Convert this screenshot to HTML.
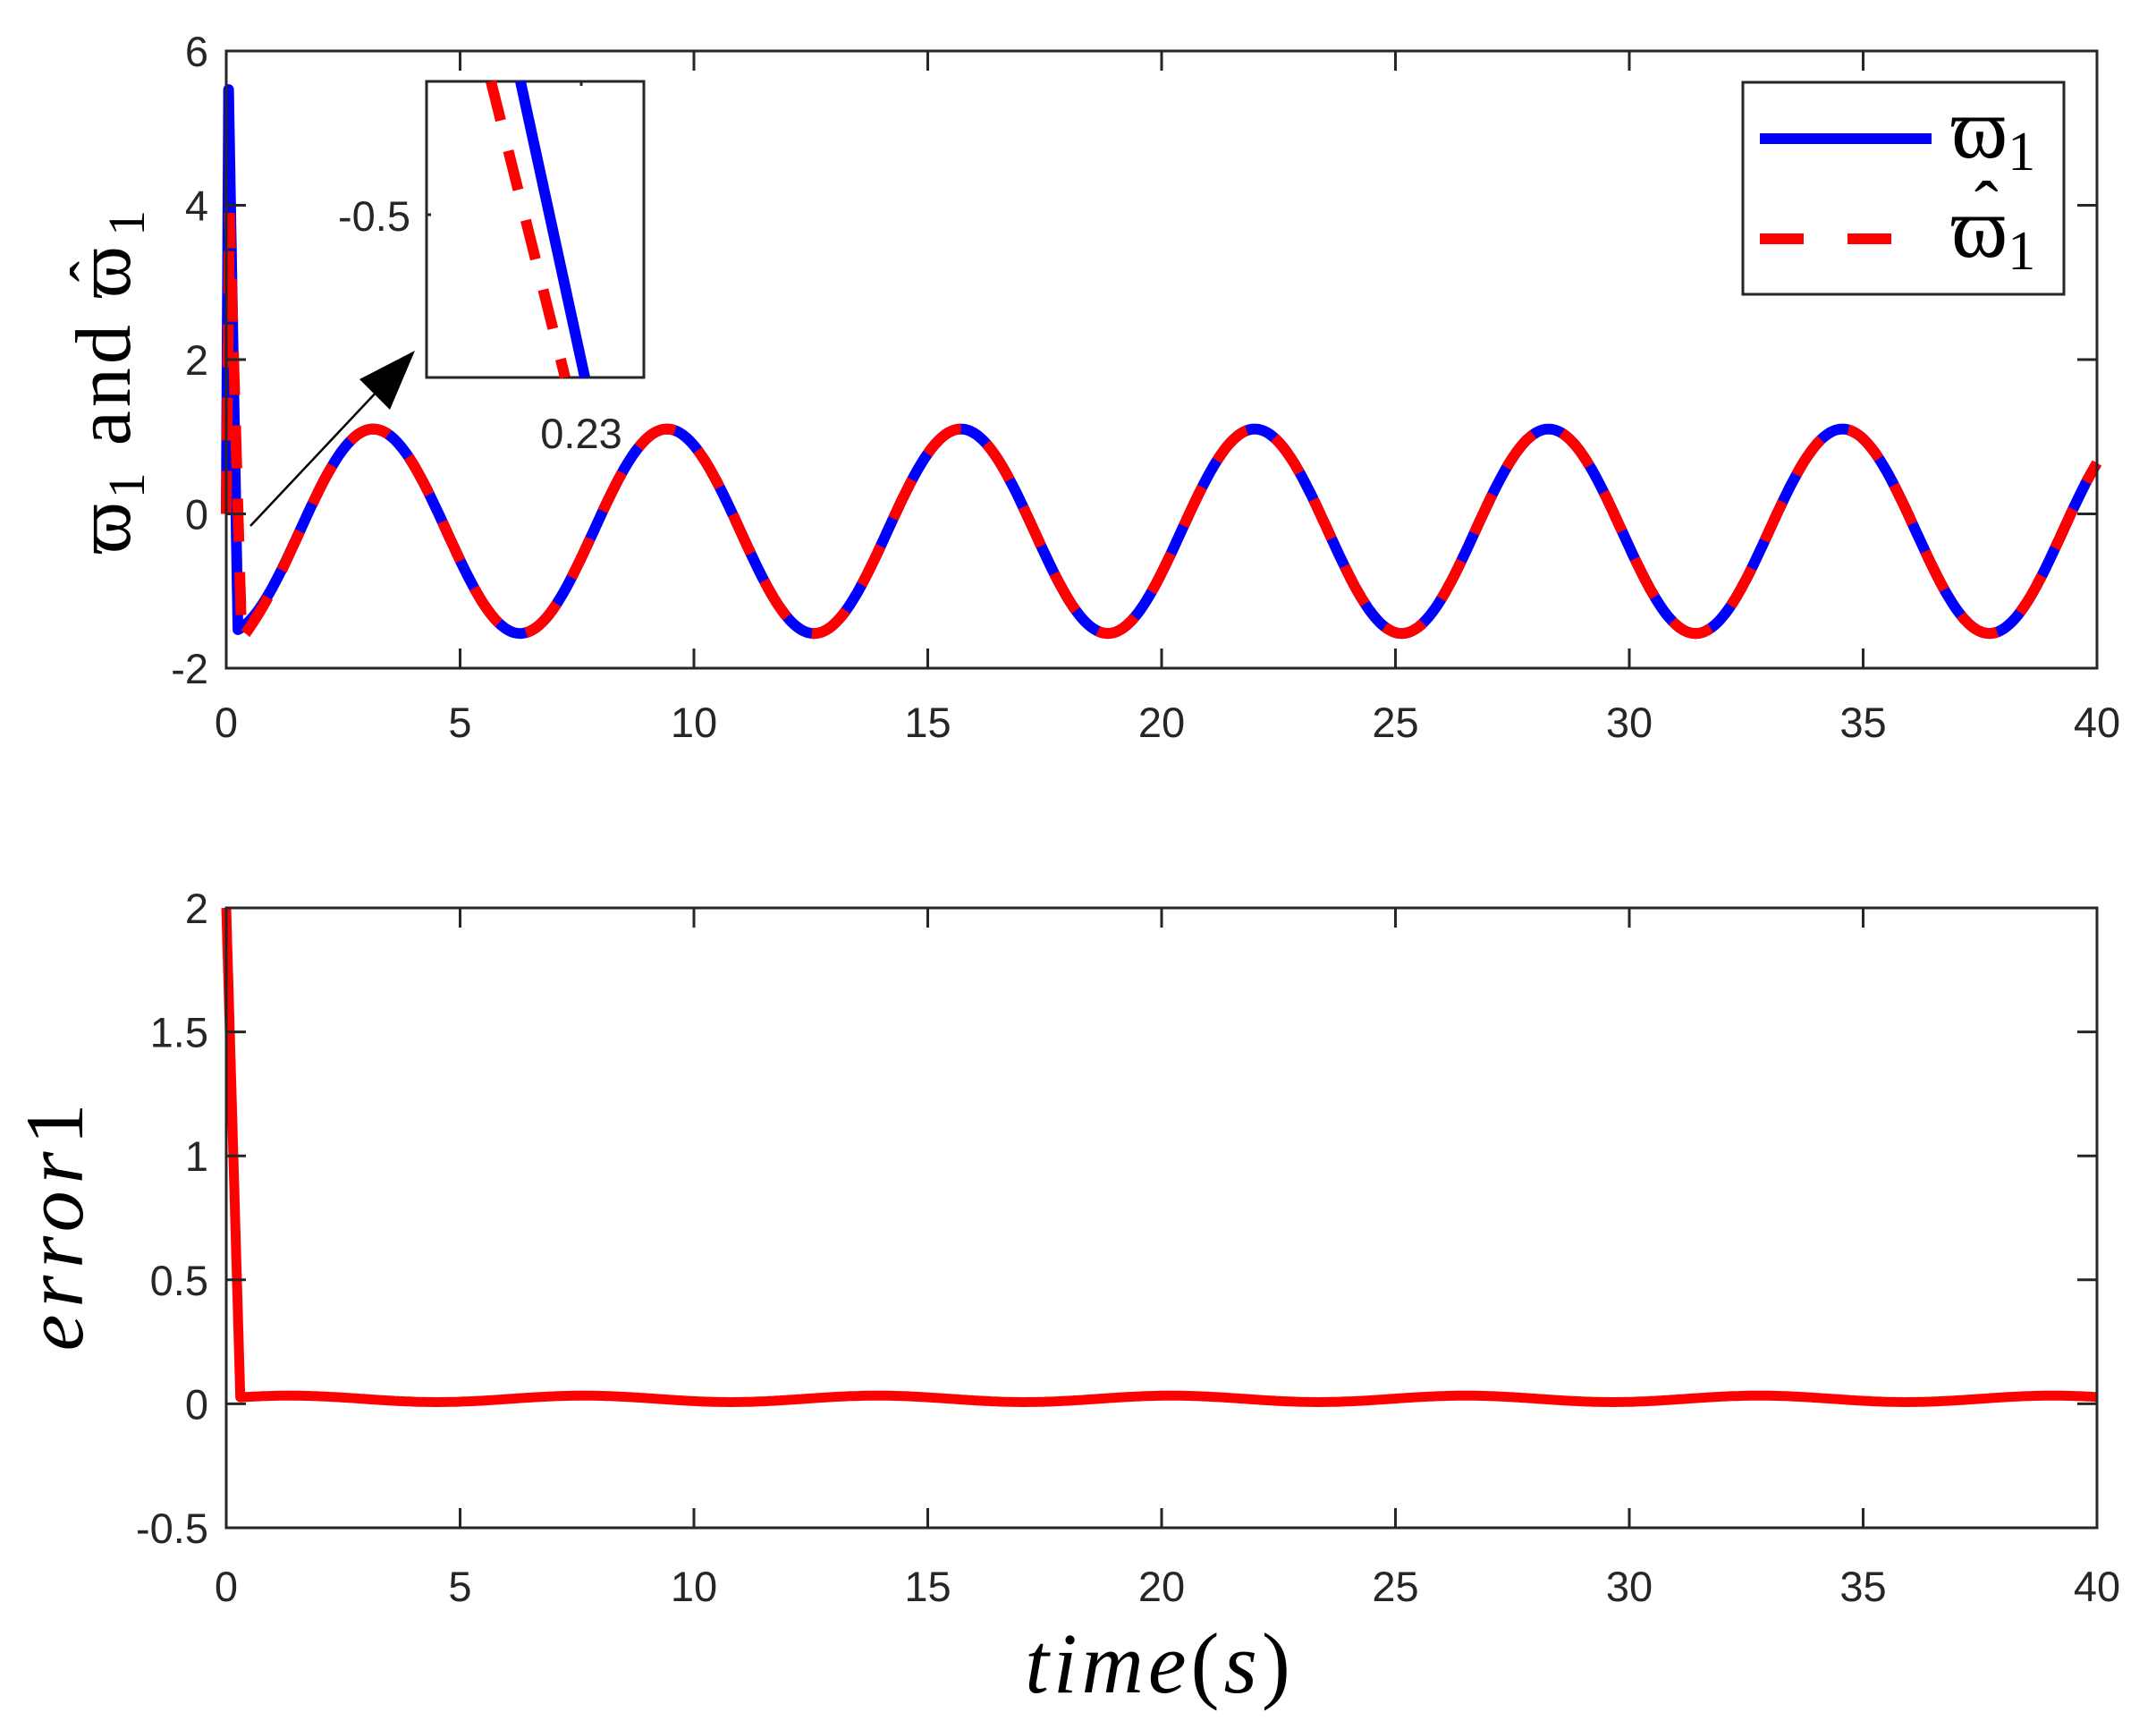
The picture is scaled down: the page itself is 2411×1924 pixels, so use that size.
<!DOCTYPE html>
<html><head><meta charset="utf-8"><style>
html,body{margin:0;padding:0;background:#fff;}
svg{display:block;}
.t{font-family:"Liberation Sans",sans-serif;font-size:47px;fill:#262626;}
.s{font-family:"Liberation Serif","DejaVu Serif",serif;fill:#000;}
</style></head><body>
<svg id="c" width="2411" height="1924" viewBox="0 0 2411 1924" xmlns="http://www.w3.org/2000/svg">
<g id="g"></g>
<!-- top y label -->
<text class="s" transform="translate(145,425) rotate(-90)" text-anchor="middle" font-size="88" letter-spacing="4">ϖ<tspan font-size="58" dy="16">1</tspan><tspan dy="-16"> and ϖ</tspan><tspan dx="-44" dy="-18" font-size="70">ˆ</tspan><tspan font-size="58" dx="24" dy="34">1</tspan></text>
<!-- bottom y label -->
<text class="s" transform="translate(92,1368) rotate(-90)" text-anchor="middle" font-size="92" font-style="italic" letter-spacing="8">error<tspan font-style="normal">1</tspan></text>
<!-- x label -->
<text class="s" x="1297" y="1892" text-anchor="middle" font-size="96" font-style="italic" letter-spacing="5">time<tspan font-style="normal">(</tspan>s<tspan font-style="normal">)</tspan></text>
</svg>
<script>
var g=document.getElementById('g');var NS="http://www.w3.org/2000/svg";
function el(t,a,txt){var e=document.createElementNS(NS,t);for(var k in a)e.setAttribute(k,a[k]);if(txt!=null)e.textContent=txt;g.appendChild(e);return e;}
var L=253,R=2345;
function X(t){return L+(R-L)*t/40;}
var T1=57,B1=747;function Y1(v){return T1+(6-v)*(B1-T1)/8;}
var T2=1015,B2=1708;function Y2(v){return T2+(2-v)*(B2-T2)/2.5;}
function base(t){return -0.225-1.325*Math.cos(t);}
function blue(t){
 if(t<0.05)return 5.5*t/0.05;
 if(t<0.25){return 5.5+(-1.5-5.5)*(t-0.05)/0.2;}
 var d=-1.5-base(0.25);return base(t)+d*Math.exp(-(t-0.25)*3);}
function red(t){
 if(t<0.07)return 3.9*t/0.07;
 if(t<0.33)return 3.9+(-1.62-3.9)*(t-0.07)/0.26;
 var d=-1.62-base(0.33);return base(t)+d*Math.exp(-(t-0.33)*3);}
function dense(fn,Y){var s="",t=0;while(t<=40.001){s+=(s?"L":"M")+X(t).toFixed(1)+","+Y(fn(t)).toFixed(1);t+=(t<1?0.005:0.05);}return s;}
el('path',{d:dense(blue,Y1),fill:'none',stroke:'#0000ff','stroke-width':12,'stroke-linejoin':'round'});
el('path',{d:dense(red,Y1),fill:'none',stroke:'#ff0000','stroke-width':12,'stroke-dasharray':'48 34'});
function err(t){if(t<0.3)return 2-(2-0.03)*t/0.3;return 0.02+0.013*Math.cos(t-1.36);}
el('path',{d:dense(err,Y2),fill:'none',stroke:'#ff0000','stroke-width':11,'stroke-linejoin':'round'});
function axes(T,B,yt,Y,lab){
 el('rect',{x:L,y:T,width:R-L,height:B-T,fill:'none',stroke:'#262626','stroke-width':3});
 for(var i=0;i<=40;i+=5){var x=X(i);el('line',{x1:x,y1:B,x2:x,y2:B-22,stroke:'#262626','stroke-width':3});el('line',{x1:x,y1:T,x2:x,y2:T+22,stroke:'#262626','stroke-width':3});
  el('text',{class:'t',x:x,y:lab,'text-anchor':'middle'},String(i));}
 yt.forEach(function(v){var y=Y(v);el('line',{x1:L,y1:y,x2:L+22,y2:y,stroke:'#262626','stroke-width':3});el('line',{x1:R,y1:y,x2:R-22,y2:y,stroke:'#262626','stroke-width':3});
  el('text',{class:'t',x:233,y:y+17,'text-anchor':'end'},String(v));});
}
axes(T1,B1,[-2,0,2,4,6],Y1,824);
axes(T2,B2,[-0.5,0,0.5,1,1.5,2],Y2,1790);
// inset
el('rect',{x:477,y:91,width:243,height:331,fill:'#fff',stroke:'#262626','stroke-width':3});
el('line',{x1:582,y1:91,x2:654,y2:422,stroke:'#0000ff','stroke-width':12});
el('line',{x1:549,y1:91,x2:632,y2:422,stroke:'#ff0000','stroke-width':12,'stroke-dasharray':'45 35'});
el('line',{x1:477,y1:240,x2:482,y2:240,stroke:'#262626','stroke-width':3});
el('line',{x1:650,y1:91,x2:650,y2:96,stroke:'#262626','stroke-width':3});
el('text',{class:'t',x:459,y:258,'text-anchor':'end'},'-0.5');
el('text',{class:'t',x:650,y:501,'text-anchor':'middle'},'0.23');
// arrow
el('line',{x1:280,y1:588,x2:440,y2:418,stroke:'#000','stroke-width':2.5});
el('polygon',{points:'464,392 402,424 436,458',fill:'#000'});
// legend
el('rect',{x:1949,y:92,width:359,height:237,fill:'#fff',stroke:'#262626','stroke-width':3});
el('line',{x1:1968,y1:155,x2:2160,y2:155,stroke:'#0000ff','stroke-width':12});
el('line',{x1:1968,y1:267,x2:2160,y2:267,stroke:'#ff0000','stroke-width':12,'stroke-dasharray':'49 49'});
function leg(y){var t=el('text',{class:'s',x:2182,y:y,'font-size':96},'ϖ');var s=document.createElementNS(NS,'tspan');s.setAttribute('font-size','62');s.setAttribute('dy','14');s.textContent='1';t.appendChild(s);}
leg(176);leg(287);
el('text',{class:'s',x:2208,y:258,'font-size':80},'ˆ');
</script>
</body></html>
